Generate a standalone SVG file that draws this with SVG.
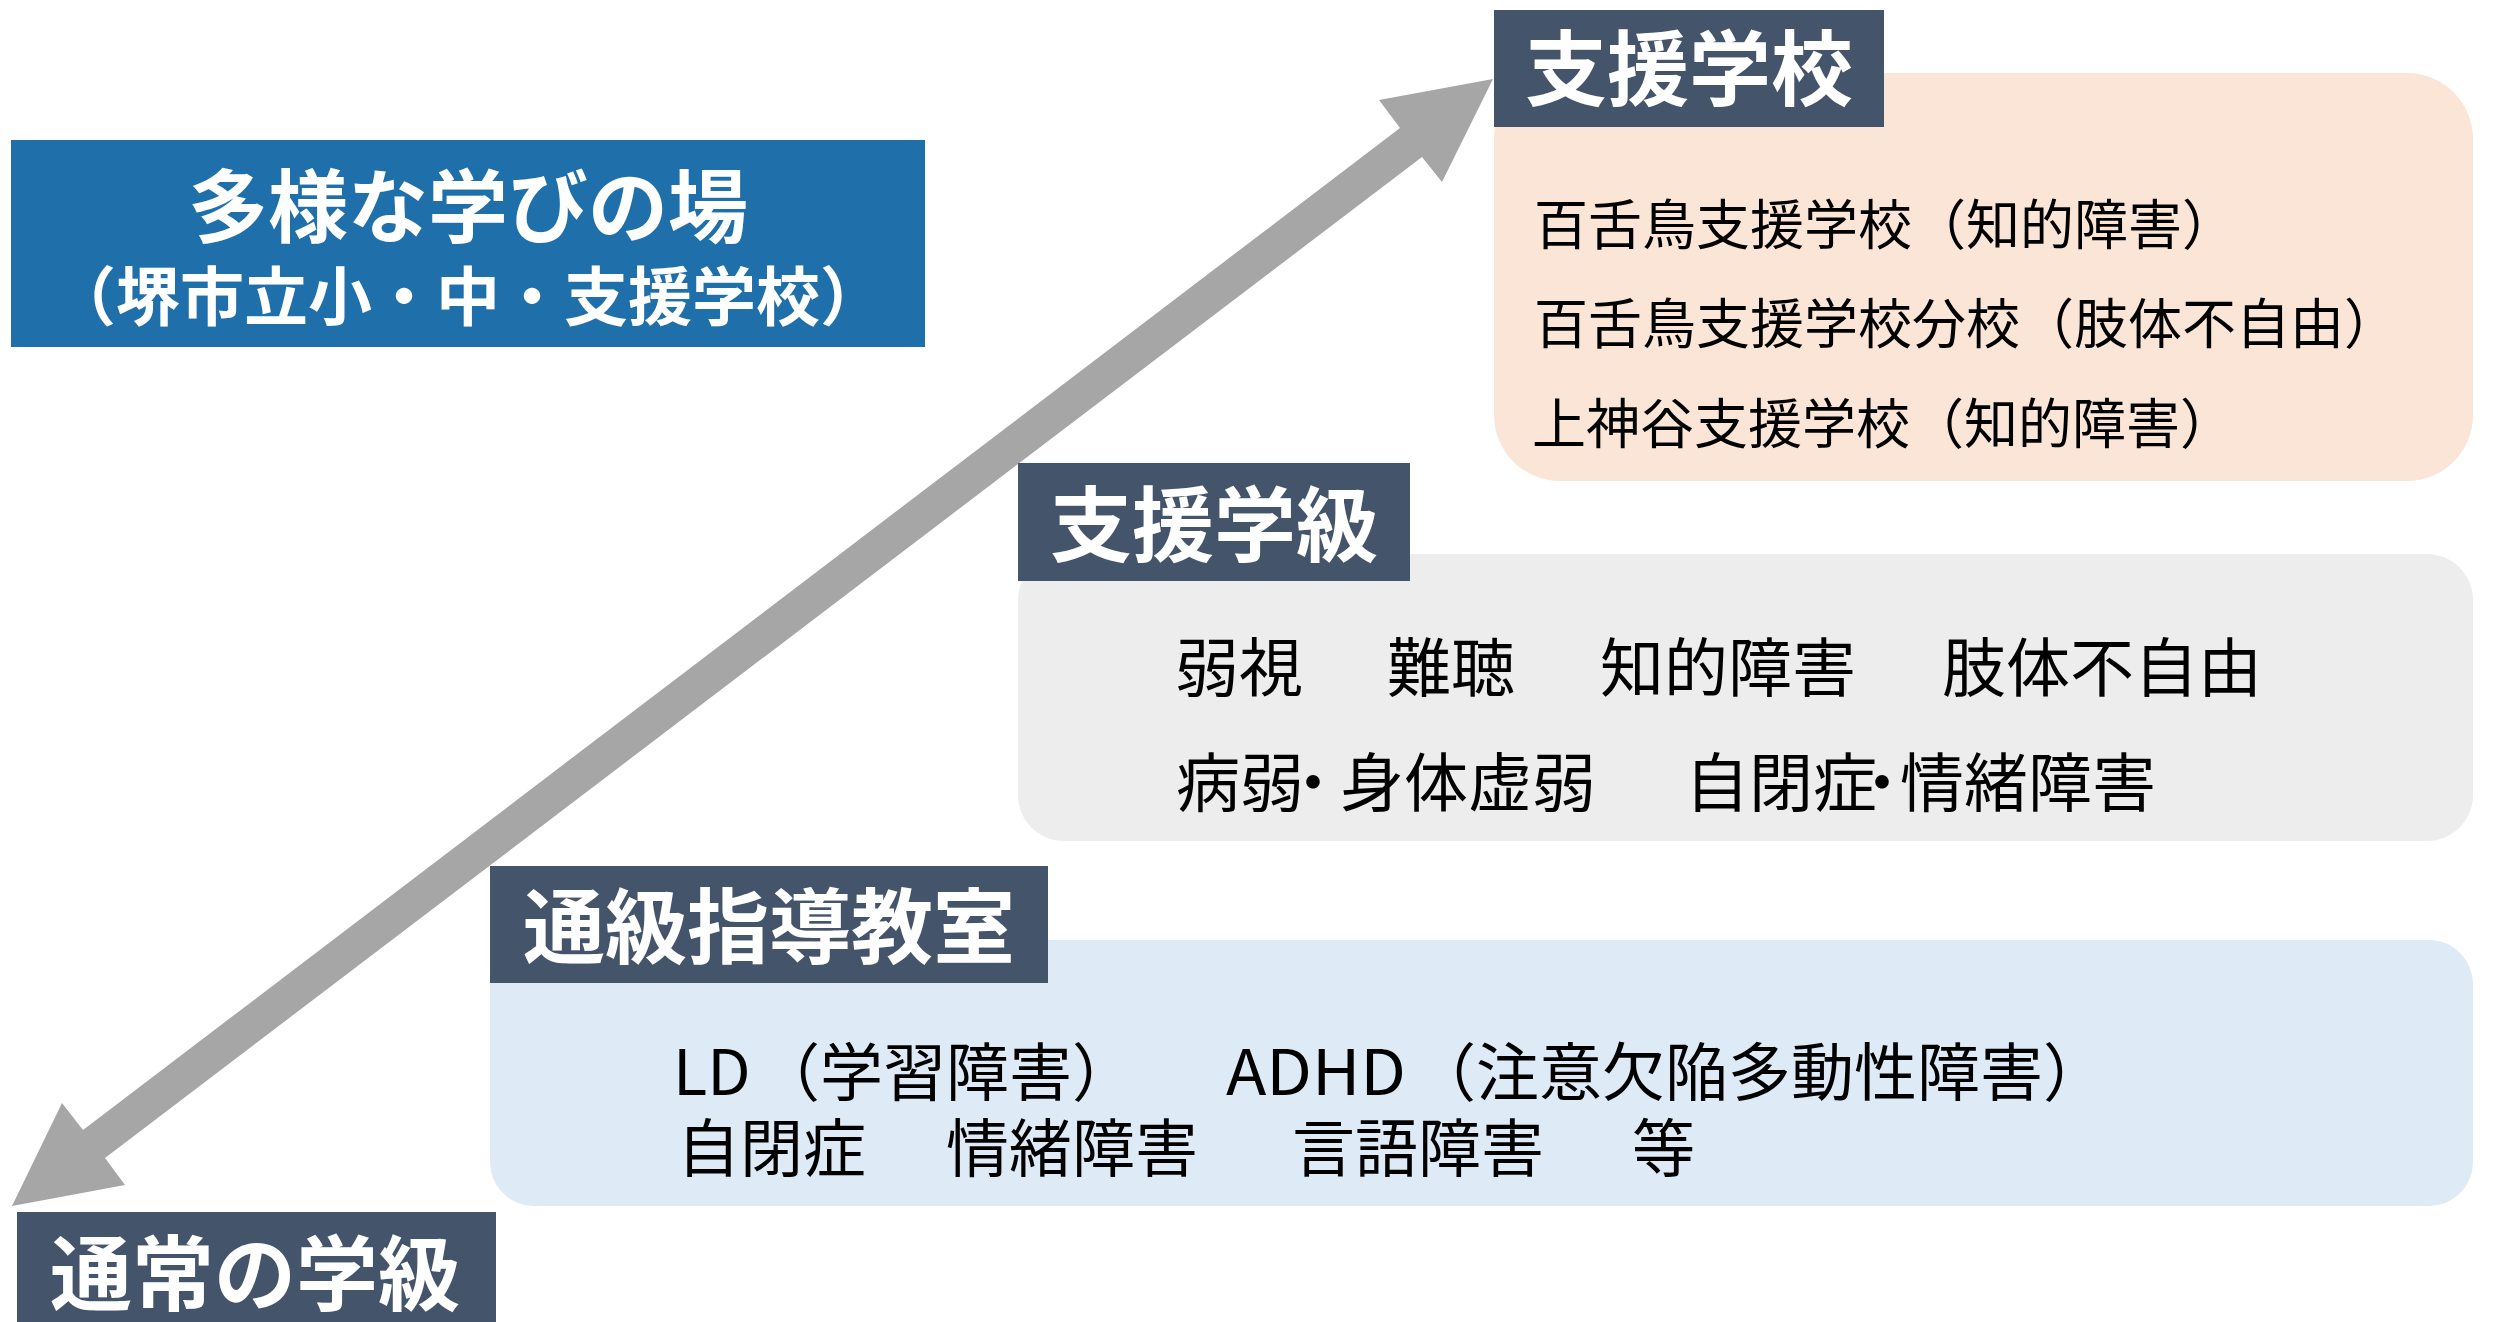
<svg xmlns="http://www.w3.org/2000/svg" width="2497" height="1322" viewBox="0 0 2497 1322">
  <style>
    .hdr { fill: #44546A; }
    .hdrtxt { font-family: "Noto Sans CJK JP", "Noto Sans", sans-serif; font-weight: 700; font-size: 82px; fill: #FFFFFF; text-anchor: middle; }
    .title { font-family: "Noto Sans CJK JP", "Noto Sans", sans-serif; font-weight: 700; fill: #FFFFFF; text-anchor: middle; }
    .body { font-family: "Noto Sans CJK JP", "Noto Sans", sans-serif; font-weight: 400; fill: #000000; }
    .arrow { fill: #A6A6A6; }
  </style>
  <rect width="2497" height="1322" fill="#FFFFFF"/>

  <g id="connectors">
    <polygon class="arrow" points="1493,79 1379,100 1400,128 83,1130 62,1103 12,1206 125,1185 105,1158 1422,157 1442,182"/>
  </g>

  <g id="title">
    <rect x="11" y="140" width="914" height="207" fill="#1F6FAA"/>
    <text class="title" x="468" y="236" font-size="80">多様な学びの場</text>
    <text class="title" x="468" y="320" font-size="64">（堺市立小・中・支援学校）</text>
  </g>

  <g id="shienGakkou">
    <rect x="1494" y="73" width="979" height="408" rx="66" ry="66" fill="#FBE5D6"/>
    <rect class="hdr" x="1494" y="10" width="390" height="117"/>
    <text class="hdrtxt" x="1689" y="99">支援学校</text>
    <text class="body" font-size="54" x="1534" y="245">百舌鳥支援学校（知的障害）</text>
    <text class="body" font-size="54" x="1534" y="344">百舌鳥支援学校分校（肢体不自由）</text>
    <text class="body" font-size="54" x="1532" y="444">上神谷支援学校（知的障害）</text>
  </g>

  <g id="shienGakkyuu">
    <rect x="1018" y="554" width="1455" height="287" rx="46" ry="46" fill="#EDEDED"/>
    <rect class="hdr" x="1018" y="463" width="392" height="118"/>
    <text class="hdrtxt" x="1214" y="555">支援学級</text>
    <text class="body" font-size="64" x="1175" y="691">弱視</text>
    <text class="body" font-size="64" x="1387" y="691">難聴</text>
    <text class="body" font-size="64" x="1600" y="691">知的障害</text>
    <text class="body" font-size="64" x="1942" y="691">肢体不自由</text>
    <text class="body" font-size="64" x="1176" y="806" dx="0 0 -23 -5">病弱・身体虚弱</text>
    <text class="body" font-size="64" x="1685" y="806" dx="0 0 0 -27 -14">自閉症・情緒障害</text>
  </g>

  <g id="tsuukyuu">
    <rect x="490" y="940" width="1983" height="266" rx="44" ry="44" fill="#DEEBF7"/>
    <rect class="hdr" x="490" y="866" width="558" height="117"/>
    <text class="hdrtxt" x="769" y="957">通級指導教室</text>
    <text class="body" font-size="63" x="673" y="1095">LD</text>
    <text class="body" font-size="63" x="757" y="1095">（学習障害）</text>
    <text class="body" font-size="63" x="1226" y="1095" textLength="180" lengthAdjust="spacingAndGlyphs">ADHD</text>
    <text class="body" font-size="63" x="1413" y="1095">（注意欠陥多動性障害）</text>
    <text class="body" font-size="63" x="677" y="1171">自閉症</text>
    <text class="body" font-size="63" x="946" y="1171">情緒障害</text>
    <text class="body" font-size="63" x="1292" y="1171">言語障害</text>
    <text class="body" font-size="63" x="1632" y="1171">等</text>
  </g>

  <g id="tsuujou">
    <rect class="hdr" x="17" y="1212" width="479" height="110"/>
    <text class="hdrtxt" x="255" y="1304">通常の学級</text>
  </g>
</svg>
